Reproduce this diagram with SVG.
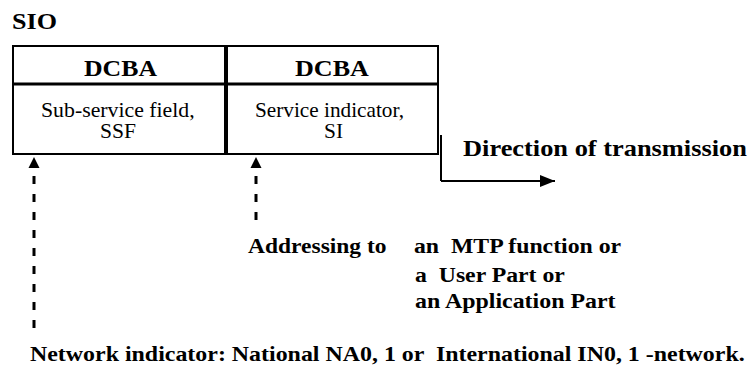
<svg xmlns="http://www.w3.org/2000/svg" width="752" height="367" viewBox="0 0 752 367">
<defs>
<marker id="ah2" markerWidth="15" markerHeight="12" refX="15" refY="6" orient="auto" markerUnits="userSpaceOnUse" viewBox="0 0 15 12"><path d="M0,0 L15,6 L0,12 Z" fill="#000"/></marker>
</defs>
<text transform="translate(12,29) scale(1.087,1)" font-family="Times New Roman" font-size="24" font-weight="bold">SIO</text>
<g id="ssf">
<rect x="13" y="46" width="213" height="108" fill="none" stroke="#000" stroke-width="2"/>
<line x1="13" y1="84" x2="226" y2="84" stroke="#000" stroke-width="3"/>
<text transform="translate(84,76) scale(1.074,1)" font-family="Times New Roman" font-size="24" font-weight="bold">DCBA</text>
<text transform="translate(41,117) scale(1.09,1)" font-family="Times New Roman" font-size="20">Sub-service field,</text>
<text transform="translate(100,138) scale(1.08,1)" font-family="Times New Roman" font-size="20">SSF</text>
</g>
<g id="si">
<rect x="226" y="46" width="212" height="108" fill="none" stroke="#000" stroke-width="2"/>
<line x1="226" y1="84" x2="438" y2="84" stroke="#000" stroke-width="3"/>
<line x1="226" y1="46" x2="226" y2="154" stroke="#000" stroke-width="4"/>
<text transform="translate(295,76) scale(1.088,1)" font-family="Times New Roman" font-size="24" font-weight="bold">DCBA</text>
<text transform="translate(255,117) scale(1.063,1)" font-family="Times New Roman" font-size="20">Service indicator,</text>
<text transform="translate(324,138) scale(1.07,1)" font-family="Times New Roman" font-size="20">SI</text>
</g>
<g id="connectors">
<line x1="441" y1="135" x2="441" y2="181" stroke="#000" stroke-width="2"/>
<line x1="441" y1="181" x2="555" y2="181" stroke="#000" stroke-width="2" marker-end="url(#ah2)"/>
<line x1="34" y1="176" x2="34" y2="328" stroke="#000" stroke-width="3" stroke-dasharray="8,10"/>
<path d="M28.5,168 L34,157 L39.5,168 Z" fill="#000"/>
<line x1="256" y1="176" x2="256" y2="222" stroke="#000" stroke-width="3" stroke-dasharray="8,10"/>
<path d="M250.5,168 L256,157 L261.5,168 Z" fill="#000"/>
</g>
<g id="labels">
<text transform="translate(463,156) scale(1.10,1)" font-family="Times New Roman" font-size="24" font-weight="bold">Direction of transmission</text>
<text transform="translate(248,253) scale(1.068,1)" font-family="Times New Roman" font-size="22" font-weight="bold">Addressing to</text>
<text transform="translate(414,253) scale(1.08,1)" font-family="Times New Roman" font-size="22" font-weight="bold" xml:space="preserve">an  MTP function or</text>
<text transform="translate(415,282) scale(1.08,1)" font-family="Times New Roman" font-size="22" font-weight="bold" xml:space="preserve">a  User Part or</text>
<text transform="translate(415,308) scale(1.087,1)" font-family="Times New Roman" font-size="22" font-weight="bold">an Application Part</text>
<text transform="translate(30,361) scale(1.087,1)" font-family="Times New Roman" font-size="22" font-weight="bold" xml:space="preserve">Network indicator: National NA0, 1 or  International IN0, 1 -network.</text>
</g>
</svg>
